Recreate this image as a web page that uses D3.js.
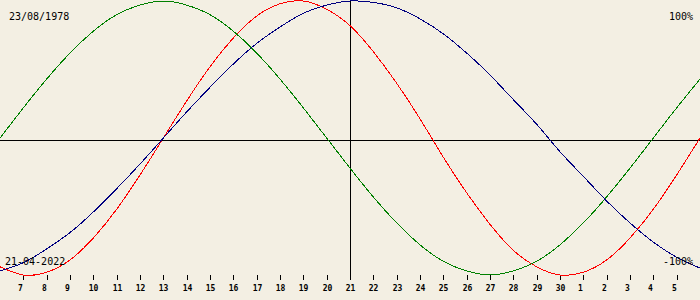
<!DOCTYPE html>
<html>
<head>
<meta charset="utf-8">
<script src="https://cdn.jsdelivr.net/npm/d3@7"></script>
<style>
  body { margin: 0; background: #f3efe3; }
  svg { display: block; }
  text { font-family: "DejaVu Sans Mono", monospace; fill: #000; }
</style>
</head>
<body>
<div id="chart"></div>
<script>
// day index 0 = 6 April 2022 ... 30 = 6 May 2022
var birthLabel = "23/08/1978";
var dateLabel = "21-04-2022";
var dayLabels = ["6", "7", "8", "9", "10", "11", "12", "13", "14", "15", "16", "17", "18", "19", "20",
                 "21", "22", "23", "24", "25", "26", "27", "28", "29", "30", "1", "2", "3", "4", "5", "6"];

// percentages read per day
var physical = [-94, -100, -98, -89, -73, -52, -27, 0, 27, 52, 73, 89, 98, 100, 94, 82,
                63, 40, 14, -14, -40, -63, -82, -94, -100, -98, -89, -73, -52, -27, 0];
var emotional = [0, 22, 43, 62, 78, 90, 97, 100, 97, 90, 78, 62, 43, 22, 0, -22,
                 -43, -62, -78, -90, -97, -100, -97, -90, -78, -62, -43, -22, 0, 22, 43];
var intellectual = [-97, -91, -81, -69, -54, -37, -19, 0, 19, 37, 54, 69, 81, 91, 97, 100,
                    99, 95, 87, 76, 62, 46, 28, 10, -10, -28, -46, -62, -76, -87, -95];

var width = 700, height = 300;
var today = 15;

var x = d3.scaleLinear().domain([0, 30]).range([0, width]);
var y = d3.scaleLinear().domain([-100, 100]).range([275, 1]);

var svg = d3.select("#chart")
    .append("svg")
        .attr("width", width)
        .attr("height", height);

svg.append("rect")
    .attr("width", width)
    .attr("height", height)
    .attr("fill", "#f3efe3");

// axis lines
svg.append("line")
    .attr("x1", 0).attr("x2", width)
    .attr("y1", 140.5).attr("y2", 140.5)
    .attr("stroke", "#000");

svg.append("line")
    .attr("x1", Math.round(x(today)) + 0.5).attr("x2", Math.round(x(today)) + 0.5)
    .attr("y1", 0).attr("y2", 280)
    .attr("stroke", "#000");

// day ticks
var tickDays = d3.range(1, 30);
var ticks = svg.selectAll(".tick")
    .data(tickDays)
    .enter()
    .append("g")
        .attr("class", "tick")
        .attr("transform", function(d) { return "translate(" + (Math.round(x(d)) + 0.5) + ",0)"; });

ticks.append("line")
    .attr("y1", 275).attr("y2", 280)
    .attr("stroke", "#000");

ticks.append("text")
    .attr("y", 291)
    .attr("dx", function(d) { return dayLabels[d].length == 1 ? -3 : 0; })
    .style("text-anchor", "middle")
    .style("font-size", "8px")
    .style("font-weight", "bold")
    .text(function(d) { return dayLabels[d]; });

// curves
var line = d3.line()
    .x(function(d, i) { return x(i); })
    .y(function(d) { return y(d); })
    .curve(d3.curveNatural);

var series = [
    { values: physical, color: "#ff0000" },
    { values: emotional, color: "#008000" },
    { values: intellectual, color: "#000080" }
];

svg.selectAll(".curve")
    .data(series)
    .enter()
    .append("path")
        .attr("class", "curve")
        .attr("d", function(d) { return line(d.values); })
        .attr("fill", "none")
        .attr("stroke", function(d) { return d.color; })
        .attr("stroke-width", 1)
        .style("shape-rendering", "crispEdges");

// labels
svg.append("text").attr("x", 9).attr("y", 20).style("font-size", "10px").text(birthLabel);
svg.append("text").attr("x", 693).attr("y", 20).style("font-size", "10px")
    .style("text-anchor", "end").text("100%");
svg.append("text").attr("x", 5).attr("y", 265).style("font-size", "10px").text(dateLabel);
svg.append("text").attr("x", 693).attr("y", 265).style("font-size", "10px")
    .style("text-anchor", "end").text("-100%");
</script>
</body>
</html>
